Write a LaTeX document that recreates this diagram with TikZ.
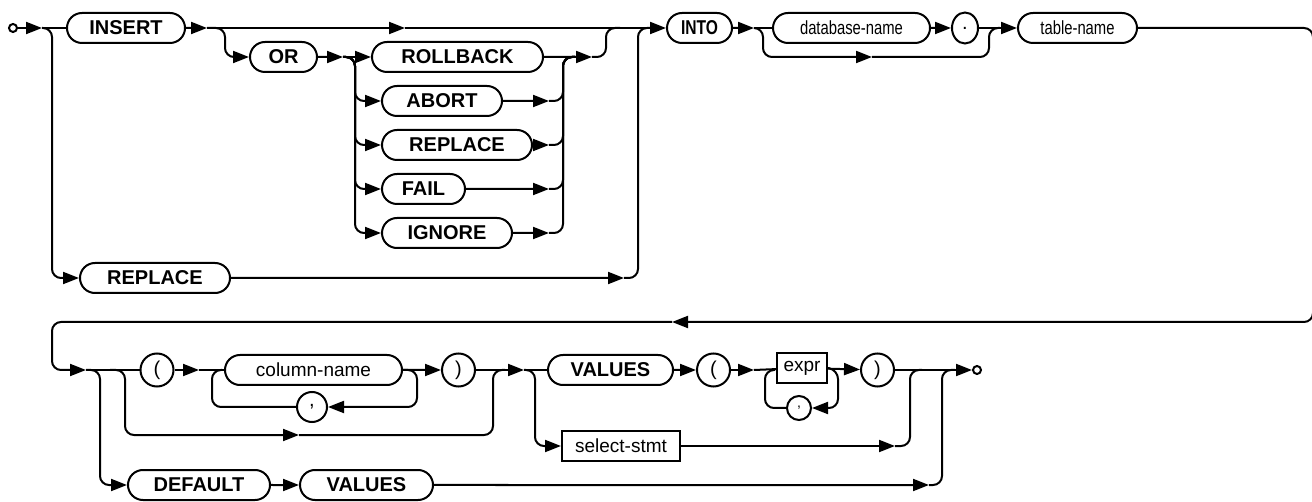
\documentclass[tikz,border=0pt]{standalone}
\usepackage{fontspec}
\setmainfont{Liberation Sans}
\usepackage{graphicx}
\usetikzlibrary{positioning, calc, shapes, arrows.meta}

\newcommand{\squeeze}[1]{\scalebox{0.78}[1]{#1}}

\begin{document}
\begin{tikzpicture}[x=1pt, y=-1pt, line width=2pt,
    arr/.style={-{Triangle[length=16pt, width=12pt]}},
    rr/.style={rounded corners=9pt},
    kw/.style={draw, rounded rectangle, minimum height=30pt, inner xsep=0pt, font=\fontsize{20}{24}\selectfont\bfseries},
    nm/.style={draw, rounded rectangle, minimum height=30pt, inner xsep=0pt, font=\fontsize{19}{23}\selectfont},
    ref/.style={draw, rectangle, minimum height=30pt, inner xsep=2pt, font=\fontsize{19}{23}\selectfont},
    tok/.style={draw, circle, minimum size=33pt, inner sep=0pt, font=\fontsize{20}{24}\selectfont},
    endpt/.style={draw, circle, minimum size=8pt, inner sep=0pt}]

    \useasboundingbox (0,0) rectangle (1312,502);

    % first line
    \node[endpt] (start) at (13,28) {};
    \node[kw, minimum width=118pt] (insert) at (126,28) {INSERT};
    \node[kw, minimum width=67pt] (or) at (283.5,57) {OR};
    \node[kw, minimum width=171pt] (rollback) at (457.5,57) {ROLLBACK};
    \node[kw, minimum width=120pt] (abort) at (442,101) {ABORT};
    \node[kw, minimum width=150pt] (replace) at (457,145) {REPLACE};
    \node[kw, minimum width=83pt] (fail) at (423.5,189) {FAIL};
    \node[kw, minimum width=130pt] (ignore) at (447,233) {IGNORE};
    \node[kw, minimum width=150pt] (replaceb) at (155,278) {REPLACE};
    \node[kw, minimum width=65pt] (into) at (699.5,28) {\squeeze{INTO}};
    \node[nm, minimum width=157pt] (dbname) at (851.5,28) {\squeeze{database-name}};
    \node[draw, ellipse, minimum width=26pt, minimum height=31pt, inner sep=0pt, font=\fontsize{20}{24}\selectfont] (dot) at (965,28) {.};
    \node[nm, minimum width=119pt] (tablename) at (1077.5,28) {\squeeze{table-name}};

    \draw[arr] (start) -- (42,28);
    \draw (42,28) -- (insert);
    \draw[arr, rr] (42,28) -- (52,28) -- (52,278) -- (replaceb);

    \draw[arr] (insert) -- (207,28);
    \draw[arr] (207,28) -- (405,28);
    \draw[arr] (405,28) -- (into);
    \draw[arr, rr] (207,28) -- (225,28) -- (225,57) -- (or);

    \draw[arr] (or) -- (343,57);
    \draw[arr] (343,57) -- (rollback);
    \draw[arr, rr] (343,57) -- (355,57) -- (355,101) -- (abort);
    \draw[arr, rr] (343,57) -- (355,57) -- (355,145) -- (replace);
    \draw[arr, rr] (343,57) -- (355,57) -- (355,189) -- (fail);
    \draw[arr, rr] (343,57) -- (355,57) -- (355,233) -- (ignore);

    \draw[arr] (abort) -- (549,101);
    \draw[arr] (replace) -- (549,145);
    \draw[arr] (fail) -- (549,189);
    \draw[arr] (ignore) -- (549,233);
    \draw[rr] (549,101) -- (563,101) -- (563,57) -- (575,57);
    \draw[rr] (549,145) -- (563,145) -- (563,57) -- (575,57);
    \draw[rr] (549,189) -- (563,189) -- (563,57) -- (575,57);
    \draw[rr] (549,233) -- (563,233) -- (563,57) -- (575,57);
    \draw[arr] (rollback) -- (592,57);
    \draw[rr] (592,57) -- (606,57) -- (606,28) -- (620,28);

    \draw[arr] (replaceb) -- (624,278);
    \draw[rr] (624,278) -- (638,278) -- (638,28) -- (650,28);

    \draw[arr] (into) -- (754,28);
    \draw (754,28) -- (dbname);
    \draw[arr, rr] (754,28) -- (763,28) -- (763,57) -- (872,57);
    \draw[rr] (872,57) -- (989,57) -- (989,28) -- (1000,28);
    \draw[arr] (dbname) -- (dot);
    \draw (dot) -- (1000,28);
    \draw[arr] (1000,28) -- (tablename);

    % wrap to second line
    \draw[arr, rr] (tablename) -- (1313,28) -- (1313,322) -- (672,322);
    \draw[arr, rr] (672,322) -- (52,322) -- (52,370) -- (86,370);

    % second line
    \node[tok] (lp) at (157,370) {(};
    \node[nm, minimum width=177pt] (colname) at (313.5,370) {column-name};
    \node[tok, minimum size=30pt] (comma) at (312,407) {,};
    \node[tok] (rp) at (458.5,370) {)};
    \node[kw, minimum width=142pt] (default) at (199,485) {DEFAULT};
    \node[kw, minimum width=133pt] (valuesb) at (366.5,485) {VALUES};
    \node[kw, minimum width=125pt] (values) at (610.5,370) {VALUES};
    \node[tok] (lpb) at (713.5,370) {(};
    \node[ref, minimum width=50pt] (expr) at (802,368) {expr};
    \node[tok, minimum size=24pt, font=\fontsize{14}{16}\selectfont] (commab) at (799,408) {,};
    \node[tok] (rpb) at (877.5,370) {)};
    \node[ref, minimum width=118pt] (select) at (621,446) {select-stmt};
    \node[endpt] (finish) at (977,370) {};

    \draw (86,370) -- (lp);
    \draw[arr, rr] (86,370) -- (100,370) -- (100,485) -- (default);
    \draw[arr, rr] (110,370) -- (125,370) -- (125,435) -- (299,435);
    \draw[rr] (299,435) -- (493,435) -- (493,370) -- (505,370);

    \draw[arr] (lp) -- (199,370);
    \draw (199,370) -- (colname);
    \draw[arr, rr] (colname.east) -- (417,370) -- (417,407) -- (comma);
    \draw[rr] (comma) -- (212,407) -- (212,370) -- (222,370);
    \draw[arr] (colname) -- (rp);
    \draw[arr] (rp) -- (524,370);

    \draw (524,370) -- (values);
    \draw[arr, rr] (524,370) -- (535,370) -- (535,446) -- (select);
    \draw[arr] (values) -- (lpb);
    \draw[arr] (lpb) -- (754,370);
    \draw (754,370) -- (expr);
    \draw[arr, rr] (expr.east) -- (838,370) -- (838,408) -- (commab);
    \draw[rr] (commab) -- (765,408) -- (765,370) -- (775,370);
    \draw[arr] (expr) -- (rpb);
    \draw[arr] (rpb) -- (finish);

    \draw[arr] (select) -- (895,446);
    \draw[rr] (895,446) -- (910,446) -- (910,370) -- (922,370);
    \draw[arr] (default) -- (valuesb);
    \draw[arr] (valuesb) -- (929,485);
    \draw[rr] (929,485) -- (942,485) -- (942,370) -- (955,370);

\end{tikzpicture}
\end{document}
